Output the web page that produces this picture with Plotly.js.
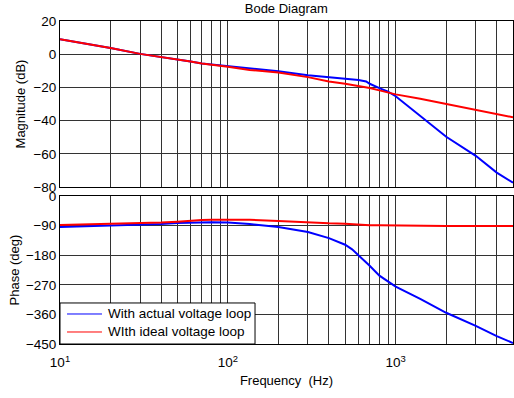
<!DOCTYPE html>
<html>
<head>
<meta charset="utf-8">
<script src="https://cdn.plot.ly/plotly-3.0.1.min.js"></script>
<style>html,body{margin:0;padding:0;background:#fff;}#chart{width:514px;height:398px;}</style>
</head>
<body>
<div id="chart"></div>
<script>
// Frequencies (Hz)
const freq = [10,20,30,40,50,60,70,80,100,135,200,300,400,500,550,600,667,700,800,900,1000,1400,2000,3000,4000,5000];
// Magnitude (dB)
const magActual = [9,3.8,0.2,-1.6,-3.2,-4.4,-5.6,-6.2,-7.3,-8.7,-10.3,-12.7,-13.8,-14.7,-15,-15.6,-16.4,-17.8,-20.4,-22.6,-25.3,-37,-49.7,-61.2,-71.3,-77.4];
const magIdeal  = [9,3.8,0.2,-1.6,-3.2,-4.4,-5.6,-6.2,-7.5,-9.5,-11,-13.8,-16.4,-17.8,-18.5,-19.2,-20,-20.4,-21.8,-23,-24.2,-26.8,-29.9,-33.3,-35.9,-38];
// Phase (deg)
const phaseActual = [-94,-90,-87,-84.8,-81.8,-80.5,-79.5,-79.5,-80.7,-85,-94,-109.5,-128,-148,-162,-179,-200,-212,-242,-261,-275.5,-313,-355,-395,-426,-447];
const phaseIdeal  = [-88,-85,-82,-80.6,-78,-74.5,-72.5,-72,-72,-72,-75.5,-80.8,-83,-84,-85.5,-87,-88,-89,-89,-89.5,-89.5,-90,-91,-91,-91,-91];
// Series names
const seriesNames = ['With actual voltage loop','WIth ideal voltage loop'];
// Grid / tick frequencies
const gridFreq = [10,20,30,40,50,60,70,80,90,100,200,300,400,500,600,700,800,900,1000,2000,3000,4000,5000];
const gridText = gridFreq.map(f => f===10?'10<sup>1</sup>':f===100?'10<sup>2</sup>':f===1000?'10<sup>3</sup>':'');
const magTicks = [20,0,-20,-40,-60,-80];
const phaseTicks = [0,-90,-180,-270,-360,-450];

const BLUE='#0000ff', RED='#ff0000';
const traces = [
  {x:freq,y:magActual,xaxis:'x2',yaxis:'y',mode:'lines',name:seriesNames[0],line:{color:BLUE,width:2},showlegend:false,hoverinfo:'skip'},
  {x:freq,y:magIdeal,xaxis:'x2',yaxis:'y',mode:'lines',name:seriesNames[1],line:{color:RED,width:2},showlegend:false,hoverinfo:'skip'},
  {x:freq,y:phaseActual,xaxis:'x',yaxis:'y2',mode:'lines',name:seriesNames[0],line:{color:BLUE,width:2},showlegend:false,hoverinfo:'skip'},
  {x:freq,y:phaseIdeal,xaxis:'x',yaxis:'y2',mode:'lines',name:seriesNames[1],line:{color:RED,width:2},showlegend:false,hoverinfo:'skip'}
];

const FONT = 'Liberation Sans, Arial, sans-serif';
const GRID = '#333333';
const xr = [1, Math.log10(5000)];

// Legend box (drawn as shapes + annotations, MATLAB style)
const legX0 = 0, legX1 = 0.4305, legY0 = 0, legY1 = 0.127;
const legLineX = [0.0155, 0.0927], legTextX = 0.1015, legRowY = [0.0929, 0.0372];
const legColors = [BLUE, RED];
const shapes = [
  {type:'rect',xref:'paper',yref:'paper',x0:legX0,x1:legX1,y0:legY0,y1:legY1,fillcolor:'#ffffff',line:{color:'#000',width:1},layer:'above'}
].concat(legColors.map((c,i)=>({type:'line',xref:'paper',yref:'paper',x0:legLineX[0],x1:legLineX[1],y0:legRowY[i],y1:legRowY[i],line:{color:c,width:1},layer:'above'})));
const annotations = seriesNames.map((n,i)=>({xref:'paper',yref:'paper',x:legTextX,y:legRowY[i],xanchor:'left',yanchor:'middle',text:n,showarrow:false,font:{family:FONT,size:13.5,color:'#000'}}));

const layout = {
  width:514, height:398,
  margin:{l:60,r:1,t:21,b:54,pad:0},
  paper_bgcolor:'#ffffff', plot_bgcolor:'#ffffff',
  font:{family:FONT,size:13,color:'#000'},
  showlegend:false,
  shapes:shapes, annotations:annotations,
  title:{text:'Bode Diagram',x:0.557,xref:'container',xanchor:'center',y:1-8/398,yref:'container',yanchor:'middle',font:{family:FONT,size:13,color:'#000'}},
  xaxis:{type:'log',range:xr,anchor:'y2',domain:[0,1],tickmode:'array',tickvals:gridFreq,ticktext:gridText,
         showgrid:true,gridcolor:GRID,gridwidth:1,showline:true,linecolor:'#000',linewidth:1,mirror:true,ticks:'',zeroline:false,
         tickfont:{family:FONT,size:13.5},ticklabelstandoff:6,
         title:{text:'Frequency\u00a0 (Hz)',font:{family:FONT,size:13},standoff:6}},
  xaxis2:{type:'log',range:xr,anchor:'y',matches:'x',domain:[0,1],tickmode:'array',tickvals:gridFreq,showticklabels:false,
          showgrid:true,gridcolor:GRID,gridwidth:1,showline:true,linecolor:'#000',linewidth:1,mirror:true,ticks:'',zeroline:false},
  yaxis:{domain:[0.486,1],range:[-80,20],anchor:'x2',tickmode:'array',tickvals:magTicks,
         showgrid:true,gridcolor:GRID,gridwidth:1,showline:true,linecolor:'#000',linewidth:1,mirror:true,ticks:'',zeroline:false,
         tickfont:{family:FONT,size:13.5},
         title:{text:'Magnitude (dB)',font:{family:FONT,size:13},standoff:4}},
  yaxis2:{domain:[0,0.458],range:[-450,0],anchor:'x',tickmode:'array',tickvals:phaseTicks,
          showgrid:true,gridcolor:GRID,gridwidth:1,showline:true,linecolor:'#000',linewidth:1,mirror:true,ticks:'',zeroline:false,
          tickfont:{family:FONT,size:13.5},
          title:{text:'Phase (deg)',font:{family:FONT,size:13},standoff:3}}
};
Plotly.newPlot('chart',traces,layout,{staticPlot:true,displayModeBar:false});
</script>
</body>
</html>
